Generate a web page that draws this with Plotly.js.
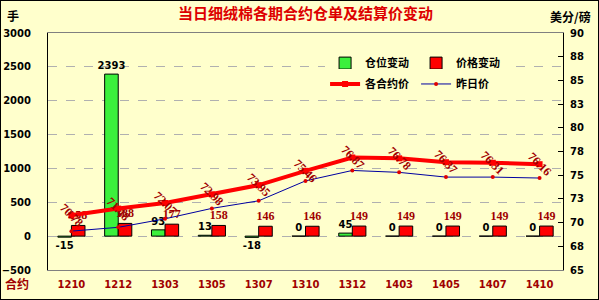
<!DOCTYPE html>
<html><head><meta charset="utf-8">
<script src="https://cdn.plot.ly/plotly-3.0.1.min.js"></script>
<style>
html,body{margin:0;padding:0;background:#ffffcc;}
#wrap{position:relative;width:599px;height:300px;}
#chart{width:599px;height:300px;}
#frame{position:absolute;left:0;top:0;width:599px;height:300px;box-sizing:border-box;border:1px solid #000;pointer-events:none;}
</style></head>
<body>
<div id="wrap"><div id="chart"></div><div id="frame"></div></div>
<script>
// ---- data ----
const contracts = ['1210','1212','1303','1305','1307','1310','1312','1403','1405','1407','1410'];
const positionChange = [-15, 2393, 93, 13, -18, 0, 45, 0, 0, 0, 0];
const priceChange = [158, 188, 177, 158, 146, 146, 149, 149, 149, 149, 149];
const settlePrice = [70.78, 71.48, 72.07, 72.98, 73.95, 75.46, 76.87, 76.78, 76.37, 76.31, 76.16];
const prevSettle = [69.1, 69.5, 70.4, 71.5, 72.3, 74.4, 75.5, 75.3, 74.8, 74.8, 74.7];
const leftTicks = [-500, 0, 500, 1000, 1500, 2000, 2500, 3000];
const rightTickVals = [65, 67.5, 70, 72.5, 75, 77.5, 80, 82.5, 85, 87.5, 90];
const rightTickText = ['65','68','70','73','75','78','80','83','85','88','90'];
const seriesNames = ['仓位变动', '价格变动', '各合约价', '昨日价'];

const bold = 'bold';
const sansNum = 'DejaVu Sans';
const serifNum = 'Liberation Serif';
const cjk = 'Noto Sans CJK SC';

const traces = [
  {type:'bar', name:seriesNames[0], x:contracts, y:positionChange, yaxis:'y',
   marker:{color:'#3cf03c', line:{color:'#000', width:1}},
   text:positionChange.map(String), textposition:'outside', constraintext:'none', cliponaxis:false,
   textfont:{family:sansNum, size:10, color:'#000', weight:bold}, legend:'legend'},
  {type:'bar', name:seriesNames[1], x:contracts, y:priceChange, yaxis:'y',
   marker:{color:'#ff0000', line:{color:'#000', width:1}},
   text:priceChange.map(String), textposition:'outside', constraintext:'none', cliponaxis:false,
   textfont:{family:serifNum, size:12, color:'#a00000', weight:bold}, legend:'legend'},
  {type:'scatter', mode:'lines+markers', name:seriesNames[2], x:contracts, y:settlePrice, yaxis:'y2',
   line:{color:'#ff0000', width:4}, marker:{color:'#ff0000', size:6, symbol:'square'}, legend:'legend2'},
  {type:'scatter', mode:'lines+markers', name:seriesNames[3], x:contracts, y:prevSettle, yaxis:'y2',
   line:{color:'#0000a0', width:1}, marker:{color:'#e00000', size:4}, legend:'legend2'}
];

const annotations = settlePrice.map((v,i)=>({
  x:i, y:v, xref:'x', yref:'y2', text:v.toFixed(2), showarrow:false,
  xanchor:'center', yanchor:'middle',
  textangle:45, font:{family:serifNum, size:12, color:'#a00000', weight:bold}
}));
annotations.push(
  {xref:'paper', yref:'paper', x:-0.068, y:1.075, xanchor:'center', yanchor:'middle', text:'手', showarrow:false,
   font:{family:cjk, size:12, color:'#000', weight:bold}},
  {xref:'paper', yref:'paper', x:1.0136, y:1.07, xanchor:'center', yanchor:'middle', text:'美分/磅', showarrow:false,
   font:{family:cjk, size:12, color:'#000', weight:bold}},
  {xref:'paper', yref:'paper', x:-0.06, y:-0.055, xanchor:'center', yanchor:'middle', text:'合约', showarrow:false,
   font:{family:cjk, size:12, color:'#a00000', weight:bold}}
);

const boundaries = contracts.map((c,i)=>i-0.5).concat([contracts.length-0.5]);

const layout = {
  width:599, height:300,
  margin:{l:48, r:36, t:33, b:30, pad:0},
  paper_bgcolor:'#ffffcc', plot_bgcolor:'#ffffcc',
  title:{text:'当日细绒棉各期合约仓单及结算价变动', x:0.5, xref:'paper', xanchor:'center', y:0.955, yanchor:'middle', yref:'container',
         font:{family:cjk, size:15, color:'#dd0000', weight:bold}},
  barmode:'group', bargap:0.42, bargroupgap:0,
  showlegend:true,
  legend:{orientation:'h', x:0.538, y:0.873, xanchor:'left', yanchor:'middle', bgcolor:'#ffffcc',
          entrywidth:46, font:{family:cjk, size:11, color:'#000', weight:bold}, traceorder:'normal'},
  legend2:{orientation:'h', x:0.538, y:0.785, xanchor:'left', yanchor:'middle', bgcolor:'#ffffcc',
          entrywidth:46, font:{family:cjk, size:11, color:'#000', weight:bold}, traceorder:'normal'},
  xaxis:{type:'category', range:[-0.5, contracts.length-0.5], showgrid:false, zeroline:false,
         showline:true, mirror:true, linecolor:'#808080', linewidth:1, ticks:'',
         tickfont:{family:sansNum, size:10, color:'#a00000', weight:bold}, ticklabelstandoff:5},
  xaxis2:{overlaying:'x', anchor:'free', position:500/3500, range:[-0.5, contracts.length-0.5],
          tickmode:'array', tickvals:boundaries, showticklabels:false, ticks:'outside', ticklen:4,
          tickcolor:'#000', showline:true, linecolor:'#000', linewidth:1, showgrid:false, zeroline:false},
  yaxis:{range:[-500, 3000], tickmode:'array', tickvals:leftTicks, showgrid:true, gridcolor:'#b0b0b0',
         griddash:'dash', gridwidth:1, zeroline:false, showline:true, linecolor:'#000', linewidth:1, ticks:'',
         tickfont:{family:sansNum, size:10, color:'#000', weight:bold}, ticklabelstandoff:14},
  yaxis2:{overlaying:'y', side:'right', range:[65, 90], tickmode:'array', tickvals:rightTickVals,
          ticktext:rightTickText, showgrid:false, zeroline:false, showline:true, linecolor:'#000', linewidth:1,
          ticks:'inside', ticklen:5, tickcolor:'#000',
          tickfont:{family:sansNum, size:10, color:'#000', weight:bold}, ticklabelstandoff:4},
  annotations:annotations
};

Plotly.newPlot('chart', traces, layout, {staticPlot:true});
</script>
</body></html>
